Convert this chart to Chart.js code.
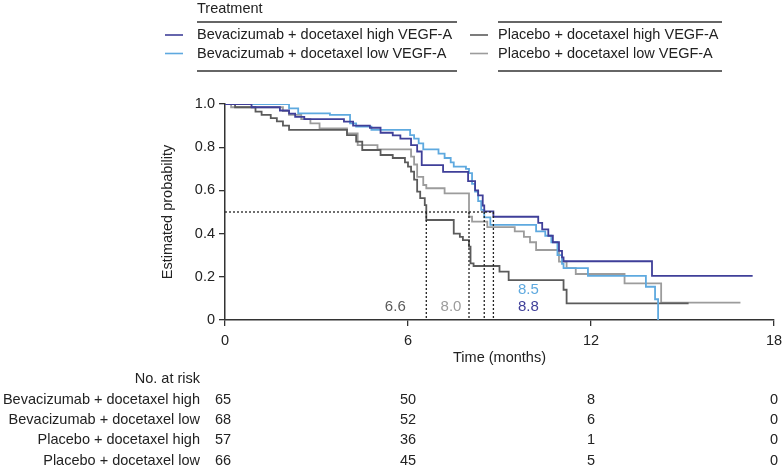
<!DOCTYPE html>
<html>
<head>
<meta charset="utf-8">
<script src="https://cdn.jsdelivr.net/npm/chart.js@4.4.1/dist/chart.umd.min.js"></script>
<style>
  html, body { margin: 0; padding: 0; background: #fff; }
  #wrap { width: 782px; height: 469px; }
</style>
</head>
<body>
<div id="wrap"><canvas id="km" width="782" height="469"></canvas></div>
<script>
// --- data ---
const legendTitle = 'Treatment';
const seriesNames = [
  'Bevacizumab + docetaxel high VEGF-A',
  'Bevacizumab + docetaxel low VEGF-A',
  'Placebo + docetaxel high VEGF-A',
  'Placebo + docetaxel low VEGF-A'
];
const seriesColors = ['#3f3f99', '#5ea9df', '#5b5b5b', '#9c9c9c'];

// Kaplan-Meier steps: time (months) and estimated probability after that time
const bevHighT = [0, 0.87, 1.8, 2.1, 2.3, 2.6, 3.9, 4.2, 4.75, 5.1, 5.5, 5.75, 6.1, 6.3, 6.45, 7.15, 7.97, 8.2, 8.3, 8.45, 8.5, 8.8, 10.27, 10.4, 10.6, 10.75, 10.95, 11.05, 11.1, 14.0, 17.3];
const bevHighS = [1, 0.985, 0.97, 0.955, 0.94, 0.93, 0.918, 0.9, 0.89, 0.867, 0.855, 0.84, 0.81, 0.78, 0.717, 0.686, 0.643, 0.6, 0.577, 0.53, 0.503, 0.478, 0.45, 0.42, 0.39, 0.36, 0.32, 0.29, 0.272, 0.204, 0.204];

const bevLowT = [0, 2.1, 2.4, 3.44, 4.1, 4.3, 4.8, 6.07, 6.2, 6.35, 6.5, 7.0, 7.2, 7.4, 7.5, 7.9, 8.0, 8.1, 8.2, 8.3, 8.4, 8.5, 8.7, 10.2, 10.5, 10.7, 10.9, 11.05, 11.1, 11.9, 13.8, 14.1, 14.2];
const bevLowS = [1, 0.98, 0.957, 0.95, 0.91, 0.895, 0.88, 0.856, 0.84, 0.818, 0.79, 0.77, 0.75, 0.73, 0.71, 0.7, 0.68, 0.63, 0.594, 0.55, 0.51, 0.475, 0.44, 0.41, 0.39, 0.36, 0.3, 0.26, 0.24, 0.204, 0.154, 0.096, 0];

const plHighT = [0, 0.33, 1.0, 1.2, 1.5, 1.7, 1.9, 2.1, 4.0, 4.3, 4.5, 5.1, 5.5, 5.9, 6.0, 6.1, 6.2, 6.3, 6.4, 6.55, 6.6, 7.5, 7.7, 7.8, 8.0, 8.05, 8.15, 9.0, 9.3, 11.1, 11.2, 15.2];
const plHighS = [1, 0.985, 0.965, 0.95, 0.935, 0.92, 0.9, 0.88, 0.856, 0.826, 0.787, 0.764, 0.75, 0.73, 0.71, 0.687, 0.65, 0.594, 0.564, 0.532, 0.463, 0.4, 0.385, 0.37, 0.34, 0.262, 0.25, 0.224, 0.185, 0.14, 0.077, 0.077];

const plLowT = [0, 0.2, 1.9, 2.1, 2.5, 2.8, 3.1, 4.0, 4.35, 5.0, 6.1, 6.2, 6.3, 6.5, 6.6, 7.2, 8.0, 8.1, 8.6, 9.5, 9.8, 10.0, 10.2, 10.95, 11.2, 11.5, 13.1, 14.3, 16.9];
const plLowS = [1, 0.985, 0.967, 0.95, 0.93, 0.91, 0.887, 0.864, 0.81, 0.79, 0.756, 0.72, 0.663, 0.625, 0.61, 0.586, 0.478, 0.455, 0.43, 0.41, 0.385, 0.36, 0.324, 0.27, 0.24, 0.213, 0.17, 0.08, 0.08];

// median survival (months) per series, same order as seriesNames
const medians = [8.8, 8.5, 6.6, 8.0];

// number at risk table
const riskTimes = [0, 6, 12, 18];
const riskLabels = ['Bevacizumab + docetaxel high', 'Bevacizumab + docetaxel low', 'Placebo + docetaxel high', 'Placebo + docetaxel low'];
const riskBevHigh = [65, 50, 8, 0];
const riskBevLow = [68, 52, 6, 0];
const riskPlHigh = [57, 36, 1, 0];
const riskPlLow = [66, 45, 5, 0];

const xTicks = [0, 6, 12, 18];
const yTicks = [0, 0.2, 0.4, 0.6, 0.8, 1.0];

// --- build ---
const FONT = '"Liberation Sans", Arial, Helvetica, sans-serif';
const TXT = '#222';

const toPts = (t, s) => t.map((v, i) => ({ x: v, y: s[i] }));
const curves = [toPts(bevHighT, bevHighS), toPts(bevLowT, bevLowS), toPts(plHighT, plHighS), toPts(plLowT, plLowS)];
const riskRows = [riskBevHigh, riskBevLow, riskPlHigh, riskPlLow];

const dotted = { borderColor: '#222', borderWidth: 1.3, borderDash: [2, 2], pointRadius: 0, fill: false };
const medianDs = [{ ...dotted, data: [{ x: 0, y: 0.5 }, { x: Math.max(...medians), y: 0.5 }] }];
medians.forEach(m => medianDs.push({ ...dotted, data: [{ x: m, y: 0.5 }, { x: m, y: 0 }] }));

const curveDs = curves.map((pts, i) => ({
  label: seriesNames[i],
  data: pts,
  borderColor: seriesColors[i],
  borderWidth: 1.8,
  stepped: true,
  pointRadius: 0,
  fill: false
}));

// legend, median labels and risk table
const extrasPlugin = {
  id: 'extras',
  afterDraw(chart) {
    const { ctx, scales: { x, y } } = chart;
    ctx.save();
    ctx.font = '14.5px ' + FONT;
    ctx.textBaseline = 'middle';

    // legend header
    ctx.fillStyle = TXT;
    ctx.textAlign = 'left';
    ctx.fillText(legendTitle, 197, 9);
    ctx.strokeStyle = '#333';
    ctx.lineWidth = 1.5;
    [[197, 457], [498, 722]].forEach(([a, b]) => {
      ctx.beginPath(); ctx.moveTo(a, 22); ctx.lineTo(b, 22); ctx.stroke();
      ctx.beginPath(); ctx.moveTo(a, 71); ctx.lineTo(b, 71); ctx.stroke();
    });
    const cols = [[165, 197], [165, 197], [470, 498], [470, 498]];
    const rows = [35, 53.5, 35, 53.5];
    seriesNames.forEach((name, i) => {
      const [sx, tx] = cols[i];
      ctx.strokeStyle = seriesColors[i];
      ctx.lineWidth = 1.6;
      ctx.beginPath(); ctx.moveTo(sx, rows[i]); ctx.lineTo(sx + 18, rows[i]); ctx.stroke();
      ctx.fillStyle = TXT;
      ctx.fillText(name, tx, rows[i]);
    });

    // median labels
    ctx.font = '15px ' + FONT;
    ctx.textAlign = 'center';
    const base = y.getPixelForValue(0) - 13;
    const labelSpots = [
      { i: 2, cx: x.getPixelForValue(medians[2]) - 31, cy: base },
      { i: 3, cx: x.getPixelForValue(medians[3]) - 18, cy: base },
      { i: 1, cx: x.getPixelForValue(medians[0]) + 35, cy: base - 17 },
      { i: 0, cx: x.getPixelForValue(medians[0]) + 35, cy: base }
    ];
    labelSpots.forEach(({ i, cx, cy }) => {
      ctx.fillStyle = seriesColors[i];
      ctx.fillText(medians[i].toFixed(1), cx, cy);
    });

    // number at risk
    ctx.font = '14.5px ' + FONT;
    ctx.fillStyle = TXT;
    ctx.textAlign = 'right';
    ctx.fillText('No. at risk', 200, 379);
    riskLabels.forEach((lab, r) => {
      const ry = 400 + r * 20.2;
      ctx.textAlign = 'right';
      ctx.fillText(lab, 200, ry);
      ctx.textAlign = 'center';
      riskTimes.forEach((t, c) => {
        const px = x.getPixelForValue(t) - (c === 0 ? 2 : 0);
        ctx.fillText(String(riskRows[r][c]), px, ry);
      });
    });
    ctx.restore();
  }
};

new Chart(document.getElementById('km'), {
  type: 'line',
  data: { datasets: [...medianDs, ...curveDs] },
  options: {
    responsive: false,
    animation: false,
    events: [],
    layout: { padding: { left: 155, top: 104, right: 8, bottom: 98 }, autoPadding: false },
    plugins: { legend: { display: false }, tooltip: { enabled: false } },
    scales: {
      x: {
        type: 'linear', min: 0, max: 18,
        afterFit: s => { s.height = 51; s.paddingLeft = 0; s.paddingRight = 0; },
        afterBuildTicks: s => { s.ticks = xTicks.map(v => ({ value: v })); },
        ticks: { padding: 6, color: TXT, font: { family: FONT, size: 14.5 }, maxRotation: 0, autoSkip: false },
        grid: { drawOnChartArea: false, drawTicks: true, tickLength: 6, color: '#333', lineWidth: 1.3 },
        border: { color: '#333', width: 1.5 },
        title: { display: true, text: 'Time (months)', color: TXT, font: { family: FONT, size: 14.5 } }
      },
      y: {
        min: 0, max: 1,
        afterFit: s => { s.width = 70; s.paddingTop = 0; s.paddingBottom = 0; },
        afterBuildTicks: s => { s.ticks = yTicks.map(v => ({ value: v })); },
        ticks: {
          padding: 4, color: TXT, font: { family: FONT, size: 14.5 },
          callback: v => (v === 0 ? '0' : v.toFixed(1))
        },
        grid: { drawOnChartArea: false, drawTicks: true, tickLength: 6, color: '#333', lineWidth: 1.3 },
        border: { color: '#333', width: 1.5 },
        title: { display: true, text: 'Estimated probability', color: TXT, font: { family: FONT, size: 14.5 } }
      }
    }
  },
  plugins: [extrasPlugin]
});
</script>
</body>
</html>
